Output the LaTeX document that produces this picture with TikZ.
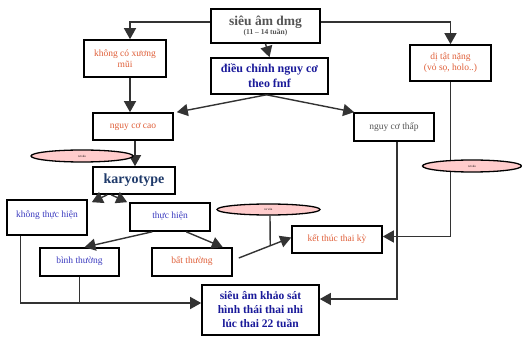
\documentclass[tikz,border=0pt]{standalone}
\usepackage{fontspec}
\setmainfont{Liberation Serif}
\usetikzlibrary{arrows.meta,shapes.geometric,calc}
\definecolor{TxtOrange}{HTML}{E0603A}
\definecolor{TxtBlue}{HTML}{3C3CC0}
\definecolor{TxtNavy}{HTML}{1A1A9A}
\definecolor{TxtKaryo}{HTML}{1F3A6A}
\definecolor{TxtGrey}{HTML}{555555}
\definecolor{LineGrey}{HTML}{333333}
\definecolor{BubblePink}{HTML}{FFCCCC}
\tikzset{
  box/.style={draw=black,line width=1.6pt,fill=white,inner sep=0pt,align=center,
    font=\fontsize{9.5}{11}\selectfont},
  conn/.style={draw=LineGrey,line width=1.4pt},
  arr/.style={conn,-{Triangle[length=11pt,width=12pt]}},
  bubble/.style={ellipse,draw=black,line width=1.3pt,fill=BubblePink,inner sep=0pt,
    font=\fontsize{3}{3}\selectfont},
}
\begin{document}
\begin{tikzpicture}[x=1pt,y=-1pt]
\useasboundingbox (0,0) rectangle (522,339);
% boxes
\node[box,minimum width=109,minimum height=34,text=TxtGrey] (dmg) at (265.5,26)
  {\fontsize{13.5}{14}\selectfont\bfseries siêu âm dmg\\[-2pt]\fontsize{7.5}{8}\selectfont\bfseries (11 -- 14 tuần)};
\node[box,minimum width=82,minimum height=37,text=TxtOrange] (xuong) at (125,58.5) {không có xương\\mũi};
\node[box,minimum width=117,minimum height=36,text=TxtNavy,font=\fontsize{12}{15}\selectfont\bfseries] (fmf) at (269.5,76)
  {điều chỉnh nguy cơ\\theo fmf};
\node[box,minimum width=81,minimum height=36,text=TxtOrange] (dital) at (450.5,63) {dị tật nặng\\(vỏ sọ, holo..)};
\node[box,minimum width=80,minimum height=27,text=TxtOrange] (cao) at (133,126.5) {nguy cơ cao};
\node[box,minimum width=80,minimum height=28,text=TxtGrey] (thap) at (394,127) {nguy cơ thấp};
\node[box,minimum width=82,minimum height=27,text=TxtKaryo,font=\fontsize{14}{16}\selectfont\bfseries] (karyo) at (134,180.5) {karyotype};
\node[box,minimum width=80,minimum height=35,text=TxtBlue] (khongth) at (47,217.5) {\raisebox{7pt}{không thực hiện}};
\node[box,minimum width=80,minimum height=28,text=TxtBlue] (thuchien) at (170,217) {\raisebox{3pt}{thực hiện}};
\node[box,minimum width=79,minimum height=28,text=TxtBlue] (binhth) at (79.5,262) {\raisebox{3pt}{bình thường}};
\node[box,minimum width=80,minimum height=28,text=TxtOrange] (batth) at (192,262) {\raisebox{3pt}{bất thường}};
\node[box,minimum width=90,minimum height=27,text=TxtOrange] (ketthuc) at (337,239.5) {\raisebox{2pt}{kết thúc thai kỳ}};
\node[box,minimum width=117,minimum height=50,text=TxtNavy,font=\fontsize{11.5}{14}\selectfont\bfseries] (khaosat) at (260.5,310)
  {siêu âm khảo sát\\hình thái thai nhi\\lúc thai 22 tuần};
% connectors
\draw[arr] ($(dmg.west)+(0,-4)$) -| ($(xuong.north)+(5,0)$);
\draw[arr] (dmg.south) -- (fmf.north);
\draw[arr] ($(dmg.east)+(0,-4)$) -| (dital.north);
\draw[arr] ($(xuong.south)+(5,0)$) -- ($(cao.north)+(-3,0)$);
\draw[arr] ($(fmf.south)+(-3,0)$) -- ($(cao.north east)+(3,0)$);
\draw[arr] ($(fmf.south)+(-3,0)$) -- ($(thap.north west)+(1,0)$);
\draw[arr] ($(cao.south)+(2,0)$) -- ($(karyo.north)+(1,0)$);
\draw[arr] ($(karyo.south west)+(15,0)$) -- ($(khongth.north east)+(4,3)$);
\draw[arr] ($(karyo.south west)+(19,0)$) -- ($(thuchien.north west)+(-2,0)$);
\draw[arr] ($(thuchien.south west)+(23,0)$) -- ($(binhth.north)+(5,0)$);
\draw[arr] ($(thuchien.south west)+(57,0)$) -- ($(batth.north east)+(-10,0)$);
\coordinate (bt) at ($(batth.east)+(6,-4)$);
\draw[arr] (bt) -- ($(ketthuc.west)+(0,-2)$);
\coordinate (jn) at ($(khaosat.west)+(0,-7)$);
\draw[arr] ($(khongth.south west)+(14,0)$) |- (jn);
\draw[conn] (binhth.south) -- (binhth.south |- jn);
\draw[arr] ($(thap.south)+(3,0)$) |- ($(khaosat.east)+(0,-11)$);
\draw[arr] (dital.south) |- ($(ketthuc.east)+(0,-3)$);
% bubbles
\node[bubble,minimum width=102,minimum height=12] (tv1) at (82,156) {tư vấn};
\node[bubble,minimum width=103,minimum height=11] (tv2) at (268.5,209.5) {tư vấn};
\node[bubble,minimum width=99,minimum height=12] (tv3) at (472,166) {tư vấn};
\draw[conn] ($(tv2.south)+(1.5,0)$) -- ($(bt)!0.6!($(ketthuc.west)+(0,-2)$)$);
\end{tikzpicture}
\end{document}
